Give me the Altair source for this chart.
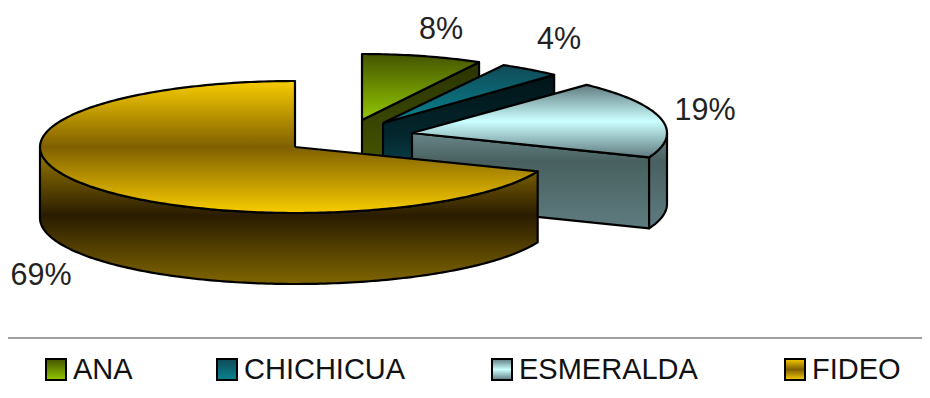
import math
import altair as alt
import pandas as pd

categories = ["ANA", "CHICHICUA", "ESMERALDA", "FIDEO"]
shares = [8, 4, 19, 69]
percent_labels = ["8%", "4%", "19%", "69%"]

W, H = 914, 382
X_SCALE = alt.Scale(domain=[8, 8 + W], range=[0, W])
Y_SCALE = alt.Scale(domain=[8, 8 + H], range=[0, H])
DEPTH = 71
RY = 66


def grad(*stops):
    return {"gradient": "linear", "x1": 0, "x2": 0, "y1": 0, "y2": 1,
            "stops": [{"offset": o, "color": c} for o, c in stops]}


top_fill = {
    "ANA": grad((0, "#445400"), (1, "#93c800")),
    "CHICHICUA": grad((0, "#0f4a56"), (1, "#0a8290")),
    "ESMERALDA": grad((0, "#5f7b80"), (0.5, "#ccffff"), (1, "#5f7b80")),
    "FIDEO": grad((0, "#f8cc00"), (0.5, "#7f6000"), (1, "#f8cc00")),
}
wall_fill = {
    "ANA": grad((0, "#2a3400"), (0.5, "#3a4700"), (1, "#4f6000")),
    "CHICHICUA": grad((0, "#011418"), (0.5, "#03262c"), (1, "#0d5564")),
    "ESMERALDA": grad((0, "#6a868a"), (0.3, "#48605f"), (1, "#5f7c80")),
    "FIDEO": grad((0, "#a08000"), (0.5, "#2a1c00"), (1, "#806600")),
}
apex = {"ANA": (362, 120), "CHICHICUA": (383, 123), "ESMERALDA": (412, 133), "FIDEO": (295, 147)}
radius = {"ANA": 243, "CHICHICUA": 250, "ESMERALDA": 255, "FIDEO": 261}
radius_left = {"FIDEO": 255}
legend_x = {"ANA": 46, "CHICHICUA": 217, "ESMERALDA": 492, "FIDEO": 785}
label_pos = {"ANA": (441, 30), "CHICHICUA": (559, 40), "ESMERALDA": (705, 111), "FIDEO": (41, 276)}


def polygon(points, fill, stroke_width=2.2):
    df = pd.DataFrame({"x": [p[0] for p in points] + [points[0][0]],
                       "y": [p[1] for p in points] + [points[0][1]],
                       "i": range(len(points) + 1)})
    return alt.Chart(df).mark_line(fill=fill, stroke="#000000", strokeWidth=stroke_width,
                                   strokeJoin="round", clip=False).encode(
        x=alt.X("x:Q", scale=X_SCALE, axis=None),
        y=alt.Y("y:Q", scale=Y_SCALE, axis=None),
        order=alt.Order("i:Q"),
    )


def arc(name, a0, a1):
    ax, ay = apex[name]
    n = max(2, int(abs(a1 - a0)) + 1)
    pts = []
    for k in range(n + 1):
        t = math.radians(a0 + (a1 - a0) * k / n)
        s = math.sin(t)
        r = radius[name] if s >= 0 else radius_left.get(name, radius[name])
        pts.append((ax + r * s, ay - RY * math.cos(t)))
    return pts


layers = []
start = 0.0
for name, share in zip(categories, shares):
    end = start + share * 3.6
    top = [apex[name]] + arc(name, start, end)
    if name != "FIDEO":
        edge = [apex[name], arc(name, end, end)[0]]
        layers.append(polygon(edge + [(x, y + DEPTH) for x, y in reversed(edge)], wall_fill[name]))
    a = max(start, 90)
    b = min(end, 270)
    if b > a:
        outer = arc(name, a, b)
        layers.append(polygon(outer + [(x, y + DEPTH) for x, y in reversed(outer)], wall_fill[name]))
    layers.append(polygon(top, top_fill[name]))
    start = end

labels = pd.DataFrame({"t": percent_labels,
                       "x": [label_pos[c][0] for c in categories],
                       "y": [label_pos[c][1] for c in categories]})
layers.append(alt.Chart(labels).mark_text(font="Liberation Sans", fontSize=30.5, color="#222222").encode(
    x=alt.X("x:Q", scale=X_SCALE, axis=None),
    y=alt.Y("y:Q", scale=Y_SCALE, axis=None),
    text="t:N"))

# legend frame: only the top rule lies inside the page
frame = pd.DataFrame({"x": [8], "x2": [8 + W], "y": [338]})
layers.append(alt.Chart(frame).mark_rule(color="#a0a0a0", strokeWidth=2).encode(
    x=alt.X("x:Q", scale=X_SCALE, axis=None), x2="x2:Q",
    y=alt.Y("y:Q", scale=Y_SCALE, axis=None)))

for name in categories:
    df = pd.DataFrame({"x": [legend_x[name]], "x2": [legend_x[name] + 20], "y": [359], "y2": [380]})
    layers.append(alt.Chart(df).mark_rect(fill=top_fill[name], stroke="#000000", strokeWidth=2).encode(
        x=alt.X("x:Q", scale=X_SCALE, axis=None), x2="x2:Q",
        y=alt.Y("y:Q", scale=Y_SCALE, axis=None), y2="y2:Q"))

legend_text = pd.DataFrame({"t": categories, "x": [legend_x[c] + 27 for c in categories], "y": [370] * 4})
layers.append(alt.Chart(legend_text).mark_text(font="Liberation Sans", fontSize=29, align="left",
                                               color="#111111").encode(
    x=alt.X("x:Q", scale=X_SCALE, axis=None),
    y=alt.Y("y:Q", scale=Y_SCALE, axis=None),
    text="t:N"))

chart = alt.layer(*layers).properties(
    width=W, height=H, padding=0, background="#ffffff",
    autosize=alt.AutoSizeParams(type="none"),
).configure_view(stroke=None)

chart.save("out.html", embed_options={"renderer": "svg", "actions": False})
